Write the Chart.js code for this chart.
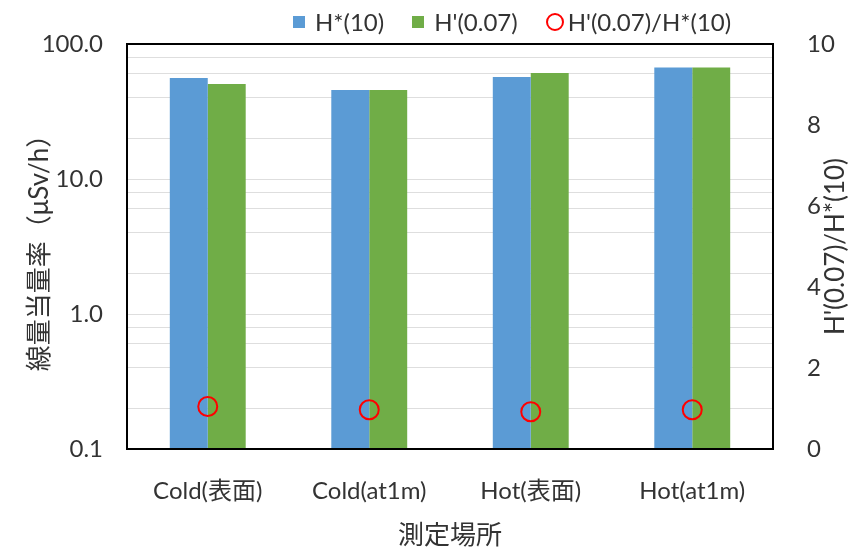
<!DOCTYPE html>
<html>
<head>
<meta charset="utf-8">
<script src="https://cdn.jsdelivr.net/npm/chart.js@4.4.0/dist/chart.umd.min.js"></script>
<style>
  body { margin: 0; background: #fff; }
  #wrap { position: relative; width: 858px; height: 552px; }
  #legend {
    position: absolute; top: 7px; left: 293px; display: flex; align-items: center;
    font-family: Lato, 'Noto Sans CJK JP', sans-serif; font-size: 24px; color: #333;
  }
  .item { display: flex; align-items: center; margin-right: 28px; }
  .box { width: 12px; height: 12px; margin-right: 10px; }
  .ring { width: 14px; height: 14px; border: 2px solid #ff0000; border-radius: 50%; margin-right: 4px; }
</style>
</head>
<body>
<div id="wrap">
  <canvas id="chart" width="858" height="552"></canvas>
  <div id="legend"></div>
</div>
<script>
// values
const categories = ['Cold(表面)', 'Cold(at1m)', 'Hot(表面)', 'Hot(at1m)'];
const hStar10 = [56, 45.6, 57, 67];
const hPrime007 = [50.5, 45.6, 61, 67];
const ratio = [1.05, 0.97, 0.92, 0.97];

const yMajorTicks = [0.1, 1, 10, 100];
const yMinorGrid = [0.2, 0.4, 0.6, 0.8, 2, 4, 6, 8, 20, 40, 60, 80];
const y1Ticks = [0, 2, 4, 6, 8, 10];

const TEXT = '#333';
Chart.defaults.font.family = "Lato, 'Noto Sans CJK JP', sans-serif";
Chart.defaults.color = TEXT;

// frame around plot + right axis title (reads bottom to top like the left one)
const framePlugin = {
  id: 'frame',
  afterDraw(chart) {
    const { ctx, chartArea: a } = chart;
    ctx.save();
    ctx.strokeStyle = '#000';
    ctx.lineWidth = 2;
    ctx.strokeRect(a.left, a.top, a.right - a.left, a.bottom - a.top);
    ctx.translate(836, (a.top + a.bottom) / 2);
    ctx.rotate(-Math.PI / 2);
    ctx.fillStyle = TEXT;
    ctx.font = "26px Lato, 'Noto Sans CJK JP', sans-serif";
    ctx.textAlign = 'center';
    ctx.textBaseline = 'middle';
    ctx.fillText("H'(0.07)/H*(10)", 0, 0);
    ctx.restore();
  }
};

const chart = new Chart(document.getElementById('chart'), {
  data: {
    labels: categories,
    datasets: [
      { type: 'line', label: "H'(0.07)/H*(10)", data: ratio, yAxisID: 'y1', showLine: false,
        pointStyle: 'circle', pointRadius: 9.5, pointBorderWidth: 2, pointHoverRadius: 9.5,
        borderColor: '#ff0000', backgroundColor: 'rgba(0,0,0,0)', order: 0 },
      { type: 'bar', label: 'H*(10)', data: hStar10, yAxisID: 'y', backgroundColor: '#5b9bd5', order: 1 },
      { type: 'bar', label: "H'(0.07)", data: hPrime007, yAxisID: 'y', backgroundColor: '#70ad47', order: 1 }
    ]
  },
  options: {
    responsive: false,
    animation: false,
    layout: { padding: { top: 44, left: 0, right: 0, bottom: 0 } },
    datasets: { bar: { categoryPercentage: 0.47, barPercentage: 1.0, borderWidth: 0 } },
    plugins: { legend: { display: false }, tooltip: { enabled: false } },
    scales: {
      x: {
        grid: { display: false },
        border: { display: false },
        ticks: { font: { size: 24 }, padding: 20, color: TEXT },
        title: { display: true, text: '測定場所', font: { size: 26 }, padding: { top: 0, bottom: 1 }, color: TEXT },
        afterFit: s => { s.height = 103; }
      },
      y: {
        type: 'logarithmic', position: 'left', min: 0.1, max: 100,
        grid: { color: '#dedede', lineWidth: 1, drawTicks: false },
        border: { display: false },
        afterBuildTicks: s => {
          s.ticks = [...yMajorTicks, ...yMinorGrid].sort((a, b) => a - b).map(v => ({ value: v }));
        },
        ticks: {
          font: { size: 24 }, padding: 24, color: TEXT, autoSkip: false,
          callback: v => yMajorTicks.includes(v) ? v.toFixed(1) : ''
        },
        title: { display: true, text: '線量当量率（μSv/h）', font: { size: 26 }, padding: { top: 24, bottom: 0 }, color: TEXT },
        afterFit: s => { s.width = 127; }
      },
      y1: {
        type: 'linear', position: 'right', min: 0, max: 10,
        grid: { display: false },
        border: { display: false },
        afterBuildTicks: s => { s.ticks = y1Ticks.map(v => ({ value: v })); },
        ticks: { font: { size: 24 }, padding: 26, color: TEXT },
        afterFit: s => { s.width = 85; }
      }
    }
  },
  plugins: [framePlugin]
});

// html legend built from the datasets, in the reference order
const legendOrder = [1, 2, 0];
document.getElementById('legend').innerHTML = legendOrder.map(i => {
  const ds = chart.data.datasets[i];
  const mark = ds.type === 'bar'
    ? `<span class="box" style="background:${ds.backgroundColor}"></span>`
    : `<span class="ring"></span>`;
  return `<span class="item">${mark}<span>${ds.label}</span></span>`;
}).join('');
</script>
</body>
</html>
